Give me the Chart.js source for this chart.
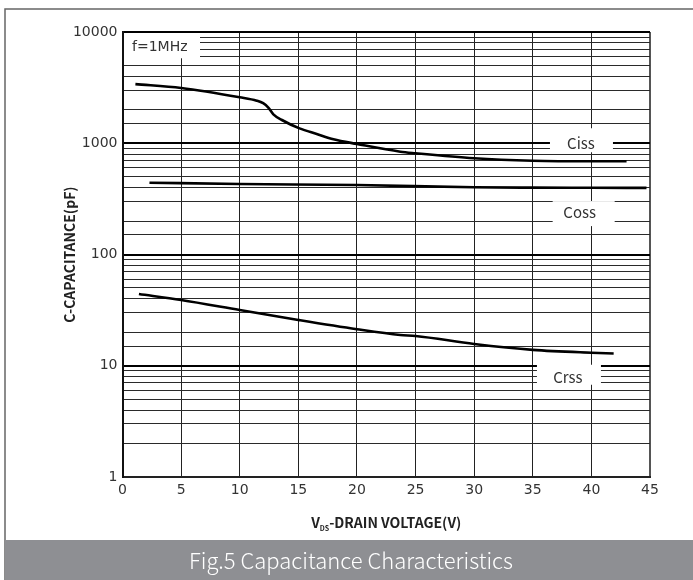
<!DOCTYPE html>
<html>
<head>
<meta charset="utf-8">
<script src="https://cdn.jsdelivr.net/npm/chart.js@4/dist/chart.umd.min.js"></script>
<style>
  html, body { margin: 0; padding: 0; background: #fff; }
  canvas { display: block; }
</style>
</head>
<body>
<canvas id="c" width="693" height="580"></canvas>
<script>
// ---- data ----
const cissVds = [1.1, 5, 10, 11.45, 12.0, 12.44, 12.87, 13.6, 15.1, 16.57, 18, 20, 23.7, 25, 30, 35, 40, 43];
const cissPf  = [3400, 3140, 2590, 2415, 2290, 2090, 1820, 1618, 1360, 1211, 1085, 985, 840, 813, 733, 697, 689, 689];

const cossVds = [2.3, 10, 20, 30, 35, 40, 44.7];
const cossPf  = [442, 430, 421, 402, 399, 398, 397];

const crssVds = [1.4, 5, 10, 15, 20, 23.7, 25, 30, 35, 40, 41.9];
const crssPf  = [44.2, 39, 31.7, 25.8, 21.3, 18.9, 18.5, 15.7, 13.9, 13.1, 12.9];

const xTickValues = [0, 5, 10, 15, 20, 25, 30, 35, 40, 45];
const yTickLabels = ['1', '10', '100', '1000', '10000'];

const seriesNames = ['Ciss', 'Coss', 'Crss'];
const noteText = 'f=1MHz';
const xTitleMain = 'V';
const xTitleSub = 'DS';
const xTitleRest = '-DRAIN VOLTAGE(V)';
const yTitle = 'C-CAPACITANCE(pF)';
const caption = 'Fig.5 Capacitance Characteristics';

// label placements (data coordinates of text centre) and their white boxes (pixel offsets)
const seriesLabelPos = [
  { x: 39.11, y: 1000, box: [-31, -15, 32, 9] },
  { x: 39.0,  y: 238,  box: [-27, -11.5, 35, 13.5] },
  { x: 38.0,  y: 7.8,  box: [-31, -13, 33, 7] }
];
const notePos = { x: 0.81, y: 7290 };

const toPts = (xs, ys) => xs.map((x, i) => ({ x: x, y: ys[i] }));

function isDecade(v) {
  const l = Math.round(Math.log10(v));
  return Math.abs(Math.pow(10, l) - v) < 1e-6;
}

const CJK = '"Noto Sans CJK SC", "Noto Sans", sans-serif';
const DJV = '"DejaVu Sans", sans-serif';

const overlayPlugin = {
  id: 'overlay',
  beforeDatasetsDraw(chart) {
    const ctx = chart.ctx;
    const xs = chart.scales.x, ys = chart.scales.y;
    const area = chart.chartArea;
    ctx.save();
    // note box
    const nx = xs.getPixelForValue(notePos.x);
    const ny = ys.getPixelForValue(notePos.y);
    ctx.fillStyle = '#fff';
    ctx.fillRect(area.left + 1.5, area.top + 1, nx - area.left + 68 - 1.5, ny - area.top + 10);
    ctx.fillStyle = '#333';
    ctx.font = '14px ' + DJV;
    ctx.textAlign = 'left';
    ctx.textBaseline = 'middle';
    ctx.fillText(noteText, nx, ny);
    // series labels
    ctx.font = '15px ' + CJK;
    ctx.textAlign = 'center';
    seriesLabelPos.forEach((p, i) => {
      const px = xs.getPixelForValue(p.x);
      const py = ys.getPixelForValue(p.y);
      ctx.fillStyle = '#fff';
      ctx.fillRect(px + p.box[0], py + p.box[1], p.box[2] - p.box[0], p.box[3] - p.box[1]);
      ctx.fillStyle = '#333';
      ctx.fillText(seriesNames[i], px, py);
    });
    ctx.restore();
  },
  afterDraw(chart) {
    const ctx = chart.ctx;
    const area = chart.chartArea;
    const W = chart.width, H = chart.height;
    ctx.save();
    // outer frame (top and left)
    ctx.strokeStyle = '#666';
    ctx.lineWidth = 1.5;
    ctx.beginPath();
    ctx.moveTo(5, H);
    ctx.lineTo(5, 9);
    ctx.lineTo(W, 9);
    ctx.stroke();
    // caption bar
    ctx.fillStyle = '#8e8f93';
    ctx.fillRect(5, 540, W - 5, H - 540);
    ctx.fillStyle = '#fff';
    ctx.font = '300 22px ' + CJK;
    ctx.textAlign = 'center';
    ctx.textBaseline = 'middle';
    ctx.fillText(caption, 351, 561);
    // x title with subscript
    ctx.fillStyle = '#222';
    const cx = (area.left + area.right) / 2;
    const ty = 523;
    ctx.font = 'bold 14px ' + CJK;
    const wMain = ctx.measureText(xTitleMain).width;
    const wRest = ctx.measureText(xTitleRest).width;
    ctx.font = 'bold 7px ' + CJK;
    const wSub = ctx.measureText(xTitleSub).width;
    let sx = cx - (wMain + wSub + wRest) / 2;
    ctx.textAlign = 'left';
    ctx.font = 'bold 14px ' + CJK;
    ctx.fillText(xTitleMain, sx, ty);
    sx += wMain;
    ctx.font = 'bold 7px ' + CJK;
    ctx.fillText(xTitleSub, sx, ty + 5);
    sx += wSub;
    ctx.font = 'bold 14px ' + CJK;
    ctx.fillText(xTitleRest, sx, ty);
    // y title rotated
    ctx.translate(70, (area.top + area.bottom) / 2);
    ctx.rotate(-Math.PI / 2);
    ctx.textAlign = 'center';
    ctx.fillText(yTitle, 0, 0);
    ctx.restore();
  }
};

new Chart(document.getElementById('c'), {
  type: 'line',
  data: {
    datasets: [
      { label: seriesNames[0], data: toPts(cissVds, cissPf) },
      { label: seriesNames[1], data: toPts(cossVds, cossPf) },
      { label: seriesNames[2], data: toPts(crssVds, crssPf) }
    ].map(d => Object.assign(d, {
      borderColor: '#000',
      borderWidth: 2.6,
      pointRadius: 0,
      fill: false,
      cubicInterpolationMode: 'monotone',
      borderCapStyle: 'butt'
    }))
  },
  options: {
    responsive: false,
    animation: false,
    devicePixelRatio: 1,
    layout: { padding: { left: 0, top: 32, right: 43, bottom: 0 } },
    plugins: { legend: { display: false }, tooltip: { enabled: false }, title: { display: false } },
    scales: {
      x: {
        type: 'linear',
        min: 0, max: 45,
        afterFit: s => { s.height = 103; },
        afterBuildTicks: s => { s.ticks = xTickValues.map(v => ({ value: v })); },
        ticks: {
          padding: 5,
          autoSkip: false,
          maxRotation: 0,
          color: '#333',
          font: { family: 'DejaVu Sans', size: 14 },
          callback: v => String(v)
        },
        grid: {
          drawTicks: false,
          color: ctx => (ctx.tick && ctx.tick.value === 45) ? '#555' : '#222',
          lineWidth: ctx => (ctx.tick && (ctx.tick.value === 45 || ctx.tick.value === 0)) ? 2 : 1
        },
        border: { display: true, color: '#222', width: 2 }
      },
      y: {
        type: 'logarithmic',
        min: 1, max: 10000,
        afterFit: s => { s.width = 122.5; },
        ticks: {
          padding: 5,
          autoSkip: false,
          color: '#333',
          font: { family: 'DejaVu Sans', size: 14 },
          callback: v => isDecade(v) ? yTickLabels[Math.round(Math.log10(v))] : ''
        },
        grid: {
          drawTicks: false,
          color: ctx => (ctx.tick && isDecade(ctx.tick.value)) ? '#000' : '#2a2a2a',
          lineWidth: ctx => (ctx.tick && isDecade(ctx.tick.value)) ? 2 : 1
        },
        border: { display: true, color: '#111', width: 2 }
      }
    }
  },
  plugins: [overlayPlugin]
});
</script>
</body>
</html>
